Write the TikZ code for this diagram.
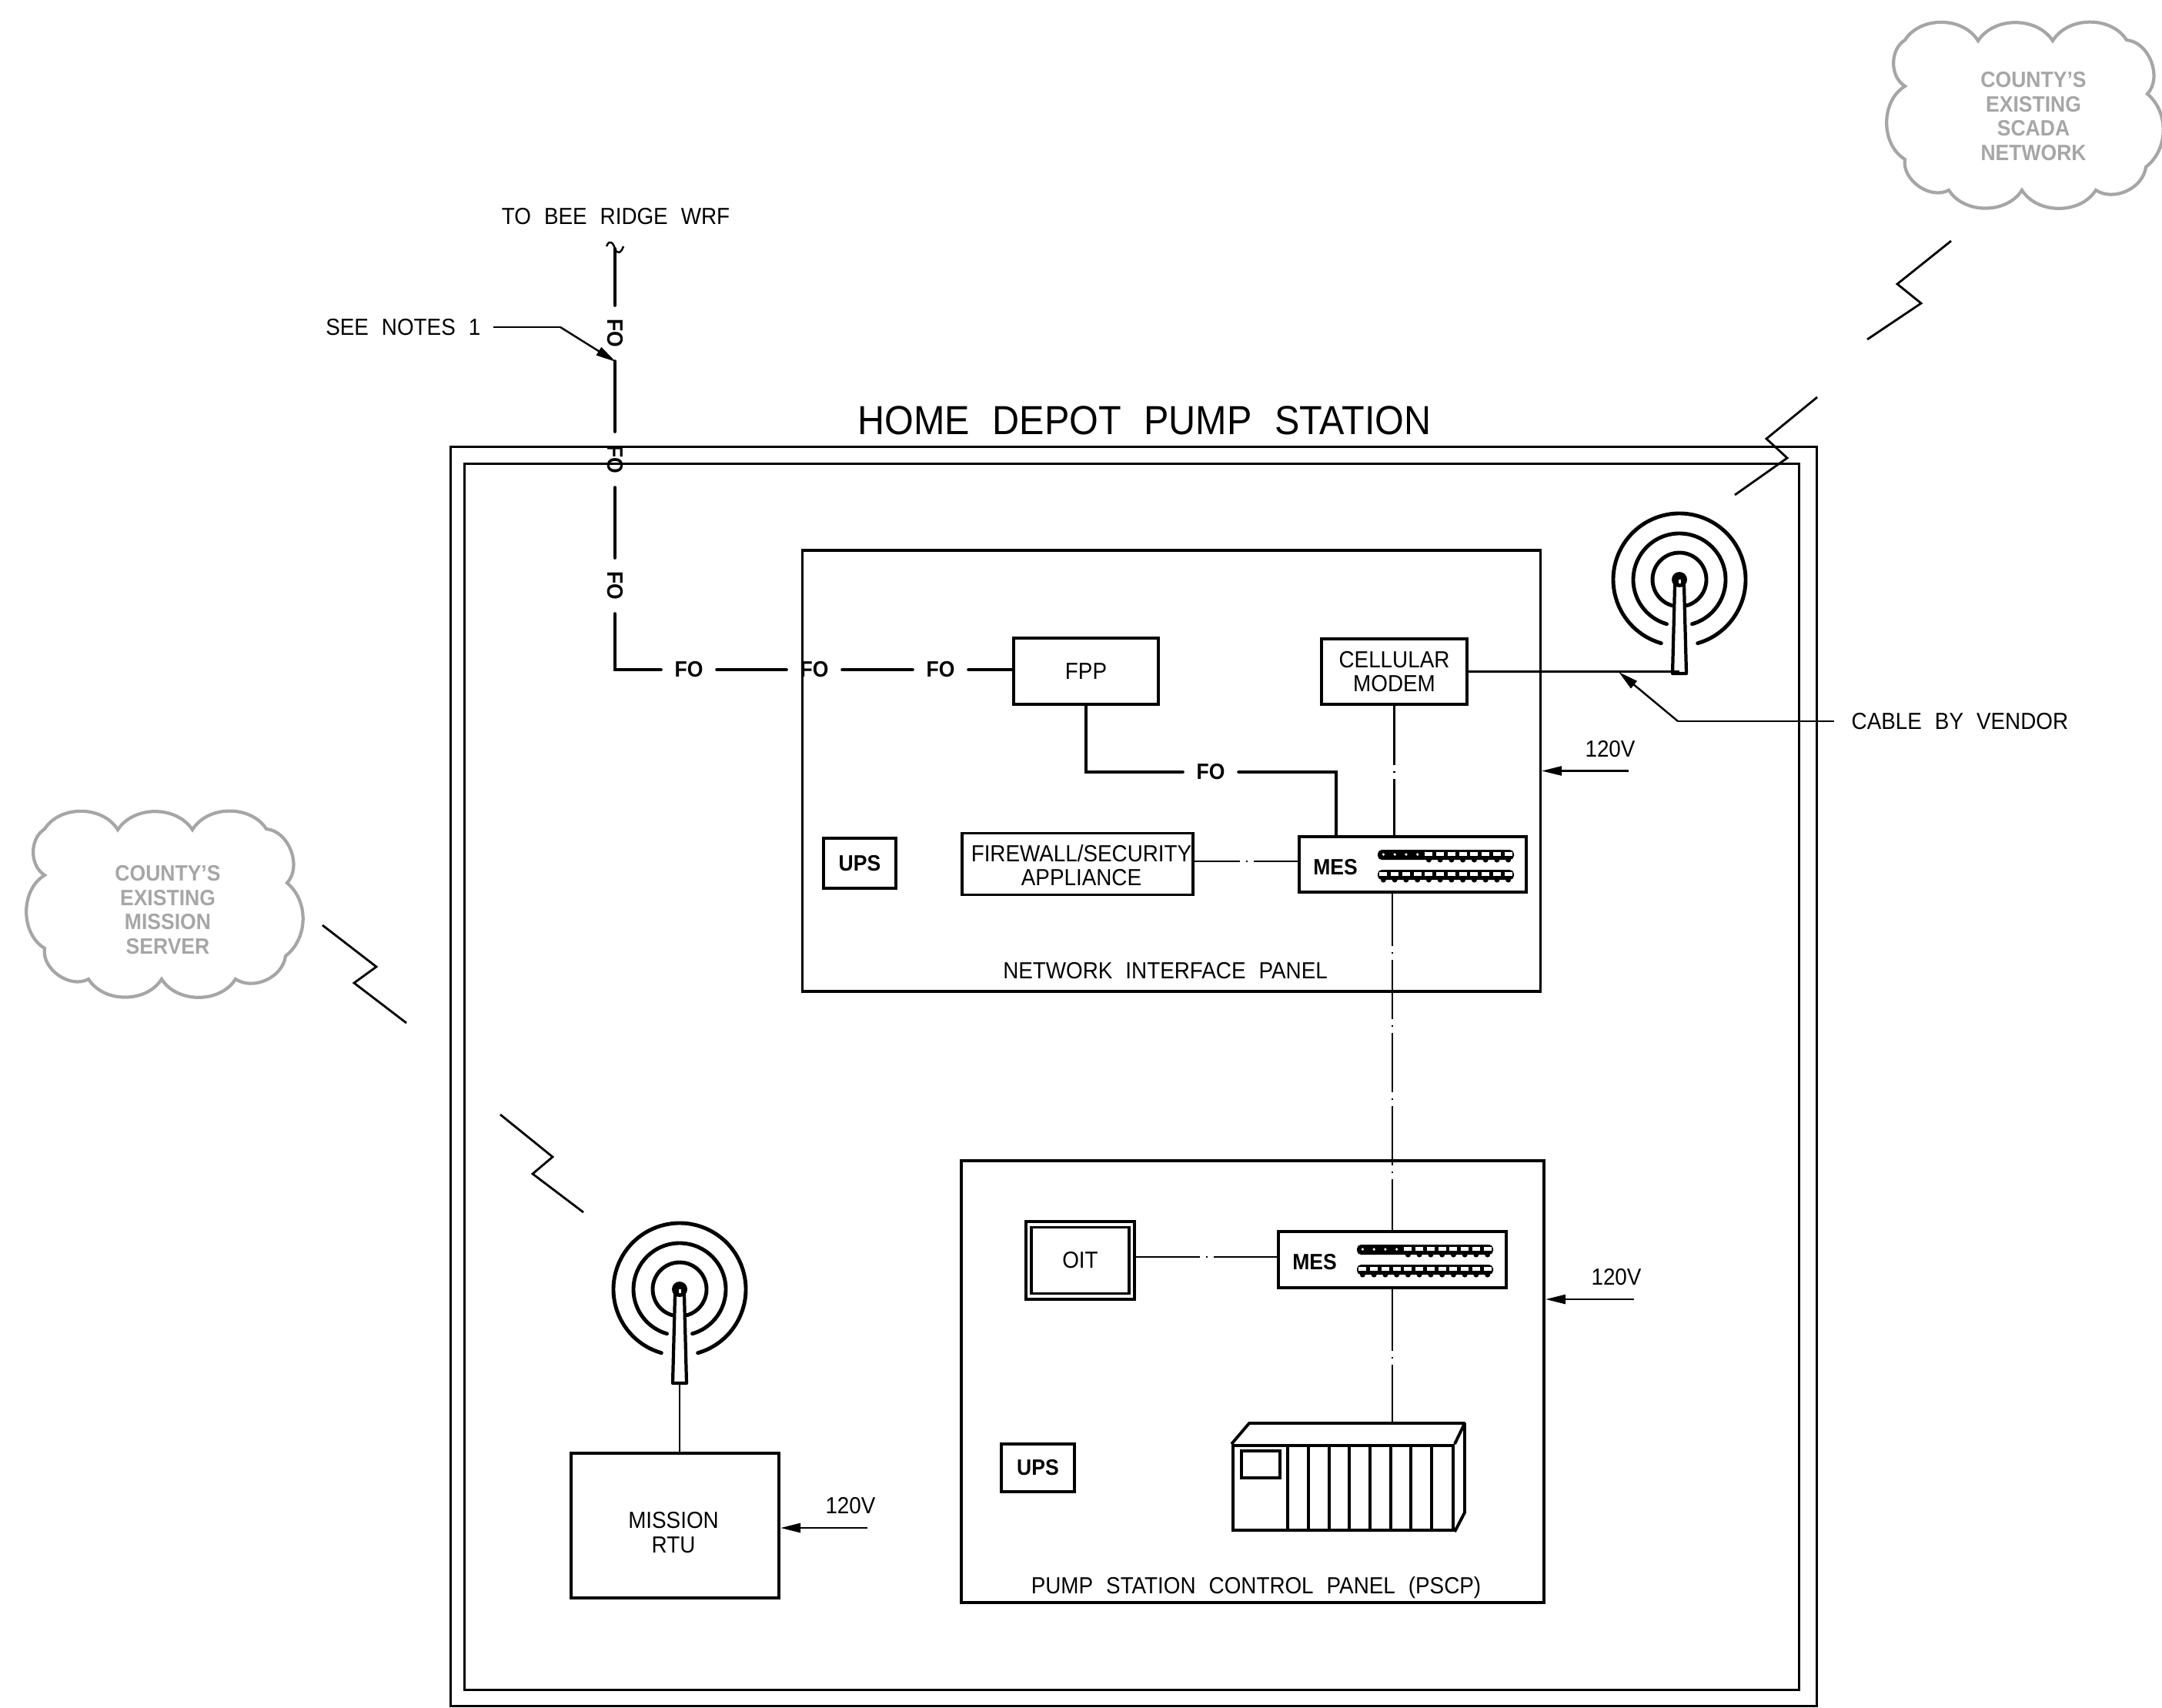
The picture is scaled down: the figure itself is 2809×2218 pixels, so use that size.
\documentclass[tikz,border=0pt]{standalone}
\usepackage{fontspec}
\setmainfont{Liberation Sans}[FakeStretch=0.92,WordSpace=2.2]
\usepackage{xcolor}
\usepackage{tikz}
\usetikzlibrary{arrows.meta,positioning,calc}
\definecolor{cloudgray}{HTML}{A6A6A6}
\newcommand{\cadfont}{\fontsize{8.6}{9}\selectfont}

\begin{document}
\begin{tikzpicture}[
  x=0.01cm, y=0.01cm,
  font=\cadfont,
  wall/.style={draw, line width=1.1pt, inner sep=0pt, align=center},
  frame/.style={wall, line width=1pt},
  lbl/.style={inner sep=0pt, align=center},
  hvy/.style={font=\fontsize{8.2}{9}\selectfont\bfseries, inner sep=0pt},
  fotag/.style={font=\fontsize{8.2}{9}\selectfont\bfseries, inner xsep=1.7mm, inner ysep=0pt},
  fibre/.style={line width=1.1pt, line cap=round},
  thinline/.style={line width=0.7pt},
  brkline/.style={line width=0.7pt, dash pattern=on #1 off 0.8mm on 0.2mm off 0.8mm},
  leader/.style={line width=0.7pt, -{Triangle[length=2.6mm,width=1.2mm]}},
  zigzag/.style={line width=0.8pt},
  cloudline/.style={draw=cloudgray, line width=1.2pt},
  cloudtxt/.style={text=cloudgray, font=\fontsize{8.2}{9}\selectfont\bfseries, lbl},
  cloud/.pic={
    \draw[cloudline] (55,-52) to[bend left=58] (150,-53) to[bend left=57] (247,-53)
      to[bend left=58] (343,-52) to[bend left=64] (370,-122) to[bend left=51] (368,-217)
      to[bend left=58] (303,-247) to[bend left=58] (207,-247) to[bend left=58] (112,-247)
      to[bend left=64] (55,-207) to[bend left=59] (55,-112) to[bend left=58] cycle;
  },
  antenna/.pic={
    \foreach \rad in {35,60,86}
      \draw[line width=1.4pt, line cap=round] (-74:\rad) arc (-74:254:\rad);
    \draw[line width=1.2pt, line join=round, fill=white] (-6,-7) -- (-9,-122) -- (9,-122) -- (6,-7) -- cycle;
    \fill (0,0) circle (10);
    \fill[white] (-1.5,0) rectangle (1.5,-5);
    \coordinate (-foot) at (0,-122);
  },
  mesports/.pic={
    \foreach \r/\n in {19/4,45/0} {
      \fill[rounded corners=1.5] (104,-\r) rectangle (281,{-\r-13});
      \foreach \i in {0,...,11} {
        \ifnum\i<\n
          \fill[white] ({111.4+14.75*\i},{-\r-6}) circle (1.8);
        \else
          \fill ({111.4+14.75*\i},{-\r-13}) circle (3.5);
          \fill[white] ({106.4+14.75*\i},{-\r-3}) rectangle ({116.4+14.75*\i},{-\r-8});
        \fi
      }
    }
  },
]
\clip (0,0) rectangle (2809,-2218);

\pic (scada) at (2420,0) {cloud};
\pic (miss) at (3,-1025) {cloud};
\node[cloudtxt] (scadatxt) at (2642,-151) {COUNTY'S\\EXISTING\\SCADA\\NETWORK};
\node[cloudtxt] (misstxt) at (218,-1182) {COUNTY'S\\EXISTING\\MISSION\\SERVER};

\node[frame, minimum width=17.74cm, minimum height=16.35cm] (outer) at (1473,-1398.5) {};
\node[frame, minimum width=17.33cm, minimum height=15.92cm] (innr) at (1470.5,-1399) {};
\node[lbl, font=\fontsize{15}{16}\selectfont] (title) at (1487,-546) {HOME DEPOT PUMP STATION};

\node[frame, minimum width=9.58cm, minimum height=5.73cm] (nip) at (1522,-1001.5) {};
\node[lbl] (niptxt) at (1514,-1261) {NETWORK INTERFACE PANEL};
\node[wall, minimum width=1.88cm, minimum height=0.86cm] (fpp) at (1411,-872) {FPP};
\node[wall, minimum width=1.89cm, minimum height=0.85cm] (modem) at (1811.5,-872.5) {CELLULAR\\MODEM};
\node[wall, minimum width=3cm, minimum height=0.8cm] (fw) at (1400,-1122.5) {};
\node[lbl] (fwtxt) at (1405,-1124) {FIREWALL/SECURITY\\APPLIANCE};
\node[wall, hvy, minimum width=0.94cm, minimum height=0.65cm] (ups1) at (1117,-1121.5) {UPS};
\node[wall, minimum width=2.95cm, minimum height=0.72cm] (mes1) at (1835.5,-1123) {};
\node[hvy] (mes1txt) at (1735,-1127) {MES};
\pic at (mes1.north west) {mesports};

\node[frame, minimum width=7.57cm, minimum height=5.74cm] (pscp) at (1627.5,-1795) {};
\node[lbl] (pscptxt) at (1632,-2063) {PUMP STATION CONTROL PANEL (PSCP)};
\node[wall, minimum width=1.41cm, minimum height=1.01cm] (oit) at (1403.5,-1637.5) {};
\node[wall, minimum width=1.27cm, minimum height=0.86cm] (oitin) at (oit) {OIT};
\node[wall, minimum width=2.96cm, minimum height=0.73cm] (mes2) at (1809,-1636.5) {};
\node[hvy] (mes2txt) at (1708,-1640) {MES};
\pic at (mes2.north west) {mesports};
\node[wall, hvy, minimum width=0.95cm, minimum height=0.62cm] (ups2) at (1348.5,-1907) {UPS};

\node[wall, minimum width=2.86cm, minimum height=1.1cm] (plc) at (1745,-1933) {};
\coordinate (plctop) at (1809,-1849);
\draw[line width=1.1pt, line join=round] (plc.north west) -- (1623,-1849) -- (1903,-1849)
  -- (1903,-1965) -- (plc.south east);
\draw[line width=1.1pt] (plc.north east) -- (1903,-1849);
\draw[line width=1.1pt] (1613,-1885) rectangle (1663,-1920);
\foreach \xpos in {1673,1700,1727,1753,1780,1807,1833,1860}
  \draw[line width=1.1pt] (\xpos,-1878) -- (\xpos,-1988);

\node[wall, minimum width=2.7cm, minimum height=1.88cm] (rtu) at (877,-1982) {};
\node[lbl] (rtutxt) at (875,-1991) {MISSION\\RTU};
\pic (ant1) at (2182,-753) {antenna};
\pic (ant2) at (883,-1675) {antenna};

\coordinate (brk) at (799,-323);
\node[fotag, rotate=-90] (fo1) at (799,-433) {FO};
\node[fotag, rotate=-90] (fo2) at (799,-597) {FO};
\node[fotag, rotate=-90] (fo3) at (799,-761) {FO};
\node[fotag] (fo4) at (895,-870) {FO};
\node[fotag] (fo5) at (1058,-870) {FO};
\node[fotag] (fo6) at (1222,-870) {FO};
\node[fotag] (fo7) at (1573,-1003) {FO};
\coordinate (fpin) at (1736,-1087);
\draw[fibre] (brk) -- (fo1);
\draw[fibre] (fo1) -- (fo2);
\draw[fibre] (fo2) -- (fo3);
\draw[fibre] (fo3) |- (fo4);
\draw[fibre] (fo4) -- (fo5);
\draw[fibre] (fo5) -- (fo6);
\draw[fibre] (fo6) -- (fo6 -| fpp.west);
\draw[fibre] (fpp.south) |- (fo7);
\draw[fibre] (fo7) -| (fpin);
\draw[line width=0.7pt] (788,-320) .. controls (792,-310) and (797,-316) .. (brk)
  .. controls (802,-331) and (807,-329) .. (810,-320);

\coordinate (fwout) at (1550,-1119);
\coordinate (oitout) at (1474,-1633);
\draw[brkline=6.1mm] (fwout) -- (fwout -| mes1.west);
\draw[brkline=8.5mm] (oitout) -- (oitout -| mes2.west);
\draw[brkline=7.7mm] (modem.south) -- (modem.south |- mes1.north);
\draw[brkline=7.7mm, dash phase=0.9mm] (mes2.north |- mes1.south) -- (mes2.north);
\draw[brkline=8mm] (mes2.south) -- (plctop);
\draw[thinline] (modem.east) -- (modem.east -| ant1-foot);
\draw[thinline] (ant2-foot) -- (ant2-foot |- rtu.north);

\coordinate (seeA) at (641,-425);
\coordinate (seeB) at (728,-425);
\coordinate (seetip) at (800,-470);
\node[lbl, anchor=east] (seetxt) at (625,-425) {SEE NOTES 1};
\node[lbl] (brtxt) at (800,-281) {TO BEE RIDGE WRF};
\draw[thinline] (seeA) -- (seeB);
\draw[leader] (seeB) -- (seetip);

\coordinate (cabA) at (2383,-937);
\coordinate (cabB) at (2180,-937);
\coordinate (cabtip) at (2103,-873);
\node[lbl, anchor=west] (cabtxt) at (2405,-937) {CABLE BY VENDOR};
\draw[thinline] (cabA) -- (cabB);
\draw[leader] (cabB) -- (cabtip);

\coordinate (pwr1) at (2116,-1001.5);
\coordinate (pwr2) at (2123,-1688);
\coordinate (pwr3) at (1127,-1985);
\draw[leader] (pwr1) -- (pwr1 -| nip.east);
\draw[leader] (pwr2) -- (pwr2 -| pscp.east);
\draw[leader] (pwr3) -- (pwr3 -| rtu.east);
\node[lbl] (v1) at (2092,-973) {120V};
\node[lbl] (v2) at (2100,-1659) {120V};
\node[lbl] (v3) at (1105,-1956) {120V};

\draw[zigzag] (2535,-313) -- (2465,-369) -- (2496,-394) -- (2426,-441);
\draw[zigzag] (2361,-516) -- (2295,-570) -- (2322,-595) -- (2254,-643);
\draw[zigzag] (419,-1202) -- (489,-1256) -- (460,-1277) -- (528,-1329);
\draw[zigzag] (650,-1448) -- (718,-1503) -- (692,-1525) -- (758,-1575);
\end{tikzpicture}
\end{document}
